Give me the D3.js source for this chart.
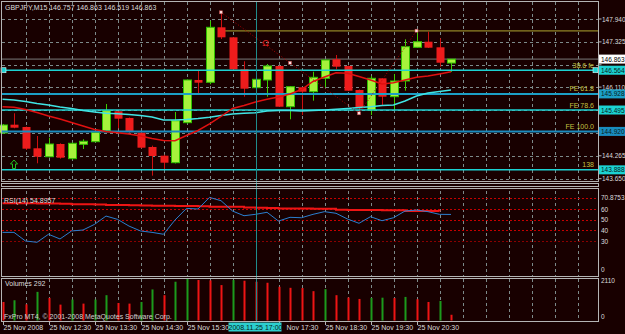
<!DOCTYPE html>
<html>
<head>
<meta charset="utf-8">
<script src="https://cdn.jsdelivr.net/npm/d3@7"></script>
<style>
body { margin: 0; background: #180000; }
svg text { font-family: "Liberation Sans Narrow", "Liberation Sans", Arial, sans-serif; font-size: 7px; }
</style>
</head>
<body>
<script>
var W = 625, H = 334;

// price data, M15 bars from 25 Nov 2008 11:30
var opens  = [144.878,145.101,145.039,144.467,144.241,144.582,144.188,144.574,144.644,144.932,
              145.461,145.281,144.886,144.502,144.268,144.080,145.155,146.302,146.240,147.717,
              147.448,146.589,146.095,146.302,146.678,145.584,146.105,145.987,146.347,146.858,
              146.678,146.033,145.496,146.347,145.853,146.275,147.180,147.330,147.180,146.757];
var highs  = [145.120,145.407,145.052,144.797,144.752,144.600,144.620,144.709,144.918,145.657,
              145.469,145.294,144.905,144.537,144.295,145.442,146.315,146.551,147.894,148.120,
              147.457,146.804,146.330,146.731,146.690,146.140,146.114,146.524,146.852,146.973,
              146.690,146.046,146.409,146.355,146.463,147.395,147.626,147.599,147.422,146.863];
var lows   = [144.850,145.004,144.421,144.064,144.220,144.188,144.166,144.448,144.628,144.918,
              145.004,144.886,144.462,143.731,143.884,144.059,145.130,145.944,146.186,147.403,
              146.570,145.853,146.087,145.853,145.576,145.246,145.361,145.746,146.105,146.589,
              146.006,145.407,145.361,145.630,145.496,146.014,147.161,147.161,146.659,146.519];
var closes = [145.093,145.020,144.456,144.241,144.582,144.214,144.601,144.655,144.897,145.477,
              145.262,144.913,144.483,144.260,144.080,145.208,146.302,146.229,147.717,147.448,
              146.589,146.068,146.320,146.678,145.584,146.122,145.987,146.374,146.839,146.659,
              146.014,145.541,146.347,145.853,146.275,147.196,147.330,147.169,146.766,146.863];

var maRed  = [145.584,145.568,145.509,145.429,145.335,145.254,145.160,145.066,144.972,144.918,
              144.886,144.851,144.797,144.730,144.677,144.671,144.811,144.945,145.120,145.321,
              145.536,145.617,145.711,145.783,145.845,145.925,146.046,146.261,146.382,146.498,
              146.482,146.396,146.302,146.194,146.229,146.302,146.374,146.409,146.463,146.524];
var maCyan = [145.783,145.764,145.724,145.670,145.630,145.576,145.536,145.482,145.442,145.407,
              145.394,145.375,145.348,145.308,145.227,145.227,145.241,145.267,145.300,145.348,
              145.388,145.407,145.423,145.469,145.482,145.482,145.469,145.482,145.496,145.515,
              145.536,145.563,145.584,145.617,145.630,145.737,145.872,145.952,145.993,146.033];

var rsi    = [38.1,38.1,30.0,28.8,36.3,31.9,39.4,40.3,45.6,53.4,
              50.3,44.0,39.4,38.1,36.3,49.7,60.6,60.0,70.8753,67.8,
              58.1,53.7,55.0,56.9,48.7,52.2,51.8,55.0,57.5,56.0,
              50.6,46.6,52.8,49.0,51.8,58.1,59.0,57.5,55.0,54.8957];
var rsiRed = [65.4,65.3,65.3,65.2,65.1,65.0,64.5,64.4,64.3,63.8,
              63.7,63.6,63.2,63.1,63.0,62.8,62.7,62.6,62.2,62.1,
              62.0,61.3,61.2,61.0,60.5,60.4,60.4,60.3,60.3,59.2,
              59.1,59.0,59.0,58.9,58.9,58.2,58.1,58.1,58.0];
var volumes = [942,1029,823,1456,1148,808,1065,859,1065,1287,
               890,859,942,1580,1287,1971,2110,2058,2040,1801,
               2058,2022,1971,1919,1714,1662,1650,1492,1595,1287,
               1168,1096,1148,1160,1140,1199,1081,942,993,292];

var priceTicks = [147.940, 147.325, 146.710, 146.110, 145.495, 144.880, 144.265, 143.650];
var hiddenTicks = [146.710, 145.495, 144.880];   // covered by the price boxes
var levelPrices = [146.564, 145.928, 145.495, 144.920, 143.888];
var levelNames  = ["38.6 fe", "FE 61.8", "FE 78.6", "FE 100.0", "138"];
var levelColors = ["#1cd2d2", "#1c9fc6", "#1cd2d2", "#1a8cbf", "#1cd2d2"];
var rsiLevels = [60, 50, 40, 30];
var timeLabels = [[0, "25 Nov 2008"], [4, "25 Nov 12:30"], [8, "25 Nov 13:30"], [12, "25 Nov 14:30"],
                  [16, "25 Nov 15:30"], [24, "Nov 17:30"], [28, "25 Nov 18:30"],
                  [32, "25 Nov 19:30"], [36, "25 Nov 20:30"]];
var bidPrice = 146.863, hiLine = 147.62, crossBar = 22;

var svg = d3.select("body").append("svg").attr("width", W).attr("height", H);
svg.append("rect").attr("width", W).attr("height", H).attr("fill", "#180000");

var x = d3.scaleLinear().domain([0, 1]).range([2.5, 14]);
var y = d3.scaleLinear().domain([143.650, 147.940]).range([178.7, 19]);
var ry = d3.scaleLinear().domain([0, 70.8753]).range([273, 197.4]);
var vy = d3.scaleLinear().domain([0, 2110]).range([320.5, 279]);
var right = 598.5;

var grid = svg.append("g").attr("stroke", "#7c8a8a").attr("stroke-dasharray", "3,3").attr("stroke-width", 1);
// vertical grid in every window
d3.range(2, 52, 2).forEach(function(i) {
  [[2, 181], [191, 276], [279, 321]].forEach(function(p) {
    grid.append("line").attr("x1", Math.round(x(i)) + 0.5).attr("x2", Math.round(x(i)) + 0.5)
      .attr("y1", p[0]).attr("y2", p[1]);
  });
});
priceTicks.forEach(function(p) {
  grid.append("line").attr("x1", 2).attr("x2", right).attr("y1", Math.round(y(p)) + 0.5).attr("y2", Math.round(y(p)) + 0.5);
});

// bid line and high line
svg.append("line").attr("x1", 2).attr("x2", right).attr("y1", y(bidPrice)).attr("y2", y(bidPrice))
  .attr("stroke", "#7a7a7a").attr("stroke-width", 1);
svg.append("line").attr("x1", x(19)).attr("x2", right).attr("y1", y(hiLine)).attr("y2", y(hiLine))
  .attr("stroke", "#b0a830").attr("stroke-width", 1);

// candles
var cg = svg.append("g");
opens.forEach(function(o, i) {
  var c = closes[i], up = c >= o;
  var cx = Math.round(x(i)) + 0.5;
  cg.append("line").attr("x1", cx).attr("x2", cx).attr("y1", y(highs[i])).attr("y2", y(lows[i]))
    .attr("stroke", up ? "#3ccc00" : "#cc1010").attr("stroke-width", 1);
  var top = y(Math.max(o, c)), h = Math.max(2, y(Math.min(o, c)) - top);
  cg.append("rect").attr("x", cx - 4).attr("y", top).attr("width", 8).attr("height", h)
    .attr("fill", up ? "#a6f23c" : "#ee1c1c")
    .attr("stroke", up ? "#2fc000" : "none").attr("stroke-width", 1);
});

// level lines
levelPrices.forEach(function(p, k) {
  svg.append("line").attr("x1", 2).attr("x2", right).attr("y1", y(p)).attr("y2", y(p))
    .attr("stroke", levelColors[k]).attr("stroke-width", k == 1 || k == 3 ? 2 : 1.5);
  svg.append("text").attr("x", 594).attr("y", y(p) - 2.5).attr("text-anchor", "end")
    .attr("fill", "#c4c040").text(levelNames[k]);
});
[3, 595].forEach(function(px) {
  svg.append("rect").attr("x", px - 2).attr("y", y(levelPrices[0]) - 2.5).attr("width", 5).attr("height", 5)
    .attr("fill", "#1cd2d2").attr("stroke", "#e0ffff").attr("stroke-width", 0.6);
});

// moving averages
var line = d3.line().x(function(d, i) { return x(i); }).y(function(d) { return y(d); });
svg.append("path").datum(maCyan).attr("d", line).attr("fill", "none").attr("stroke", "#40e4e4").attr("stroke-width", 1.5);
svg.append("path").datum(maRed).attr("d", line).attr("fill", "none").attr("stroke", "#e01010").attr("stroke-width", 1.5);

// fibo expansion
var A = [x(19), y(highs[19])], B = [x(31), y(lows[31])], C = [x(36), y(highs[36])];
svg.append("path").attr("d", "M" + A + "L" + B + "L" + C).attr("fill", "none")
  .attr("stroke", "#b00000").attr("stroke-dasharray", "1,2").attr("stroke-width", 1);
[A, [(A[0] + B[0]) / 2, (A[1] + B[1]) / 2], B, C].forEach(function(p) {
  svg.append("rect").attr("x", p[0] - 1.5).attr("y", p[1] - 1.5).attr("width", 3).attr("height", 3)
    .attr("fill", "#ffe0e0").attr("stroke", "#c04040").attr("stroke-width", 0.5);
});
svg.append("text").attr("x", x(22) + 10).attr("y", 46).attr("text-anchor", "middle")
  .attr("fill", "#e02020").style("font-size", "9px").text("Ω");
svg.append("path").attr("d", "M14,160 L17.5,164 L15.5,164 L15.5,168.5 L12.5,168.5 L12.5,164 L10.5,164 Z")
  .attr("fill", "none").attr("stroke", "#22c022").attr("stroke-width", 1);

svg.append("text").attr("x", 5).attr("y", 10).attr("fill", "#dcdcdc")
  .text("GBPJPY,M15  146.757 146.863 146.519 146.863");

// RSI window
[70].concat(rsiLevels).forEach(function(v) {
  svg.append("line").attr("x1", 2).attr("x2", right).attr("y1", Math.round(ry(v)) + 0.5).attr("y2", Math.round(ry(v)) + 0.5)
    .attr("stroke", v == 30 ? "#8a0000" : "#c40000").attr("stroke-dasharray", "2,2");
});
var rline = d3.line().x(function(d, i) { return x(i); }).y(function(d) { return ry(d); });
svg.append("path").datum(rsiRed).attr("d", rline.curve(d3.curveStepAfter)).attr("fill", "none")
  .attr("stroke", "#ee1414").attr("stroke-width", 2);
svg.append("path").datum(rsi).attr("d", rline.curve(d3.curveLinear)).attr("fill", "none")
  .attr("stroke", "#2a7fd0").attr("stroke-width", 1);
svg.append("text").attr("x", 4).attr("y", 202.5).attr("fill", "#dcdcdc").text("RSI(14) 54.8957");

// volume window
volumes.forEach(function(v, i) {
  var up = i > 0 && v > volumes[i - 1];
  svg.append("rect").attr("x", Math.round(x(i)) - 0.5).attr("y", vy(v)).attr("width", 2).attr("height", vy(0) - vy(v))
    .attr("fill", up ? "#1c9a1c" : "#ee1414");
});
svg.append("text").attr("x", 5).attr("y", 285.5).attr("fill", "#dcdcdc").text("Volumes 292");
svg.append("text").attr("x", 4).attr("y", 318.5).attr("fill", "#d0d0d0").text("FxPro MT4, © 2001-2008 MetaQuotes Software Corp.");

// crosshair
svg.append("line").attr("x1", Math.round(x(crossBar)) + 0.5).attr("x2", Math.round(x(crossBar)) + 0.5)
  .attr("y1", 2).attr("y2", 321).attr("stroke", "#1f8c8c").attr("stroke-width", 1);

// window frames
var fr = svg.append("g").attr("stroke", "#b4b4b4").attr("stroke-width", 1).attr("fill", "none");
[[1.5, 181.5], [183.5, 186.5], [188.5, 276.5], [278.5, 321.5]].forEach(function(p) {
  fr.append("rect").attr("x", 1.5).attr("y", p[0]).attr("width", right - 1.5).attr("height", p[1] - p[0]);
});

// price axis
priceTicks.forEach(function(p) {
  svg.append("line").attr("x1", right).attr("x2", right + 3).attr("y1", y(p)).attr("y2", y(p)).attr("stroke", "#b4b4b4");
  if (hiddenTicks.indexOf(p) < 0)
    svg.append("text").attr("x", 602).attr("y", y(p) + 2.5).attr("fill", "#dcdcdc").style("font-size", "6.5px").text(p.toFixed(3));
});
function priceBox(p, bg, fg) {
  svg.append("rect").attr("x", 599).attr("y", y(p) - 4.5).attr("width", 26).attr("height", 9).attr("fill", bg);
  svg.append("text").attr("x", 601).attr("y", y(p) + 2.5).attr("fill", fg).style("font-size", "6.5px").text(p.toFixed(3));
}
priceBox(bidPrice, "#ffffff", "#000000");
levelPrices.forEach(function(p, k) { priceBox(p, levelColors[k], "#062020"); });

// rsi axis
rsiLevels.concat([0]).forEach(function(v) {
  svg.append("text").attr("x", 601).attr("y", (v == 0 ? ry(v) - 1.5 : ry(v) + 2.5)).attr("fill", "#dcdcdc")
    .style("font-size", "6.5px").text(v);
});
svg.append("text").attr("x", 601).attr("y", ry(70.8753) + 2.5).attr("fill", "#dcdcdc").style("font-size", "6.5px").text("70.8753");
svg.append("text").attr("x", 601).attr("y", vy(2110) + 4).attr("fill", "#dcdcdc").style("font-size", "6.5px").text("2110");
svg.append("text").attr("x", 601).attr("y", vy(0) - 1.5).attr("fill", "#dcdcdc").style("font-size", "6.5px").text("0");

// time axis
timeLabels.forEach(function(t) {
  var tx = Math.round(x(t[0])) + 0.5;
  svg.append("line").attr("x1", tx).attr("x2", tx).attr("y1", 321.5).attr("y2", 325).attr("stroke", "#b4b4b4");
  svg.append("text").attr("x", t[0] == 24 ? tx + 7 : tx).attr("y", 330).attr("fill", "#dcdcdc").text(t[1]);
});
var cxp = x(crossBar);
svg.append("rect").attr("x", cxp - 27).attr("y", 322.5).attr("width", 53).attr("height", 9).attr("fill", "#2ccfcf");
svg.append("text").attr("x", cxp).attr("y", 330).attr("text-anchor", "middle").attr("fill", "#062020").text("2008.11.25 17:00");
</script>
</body>
</html>
